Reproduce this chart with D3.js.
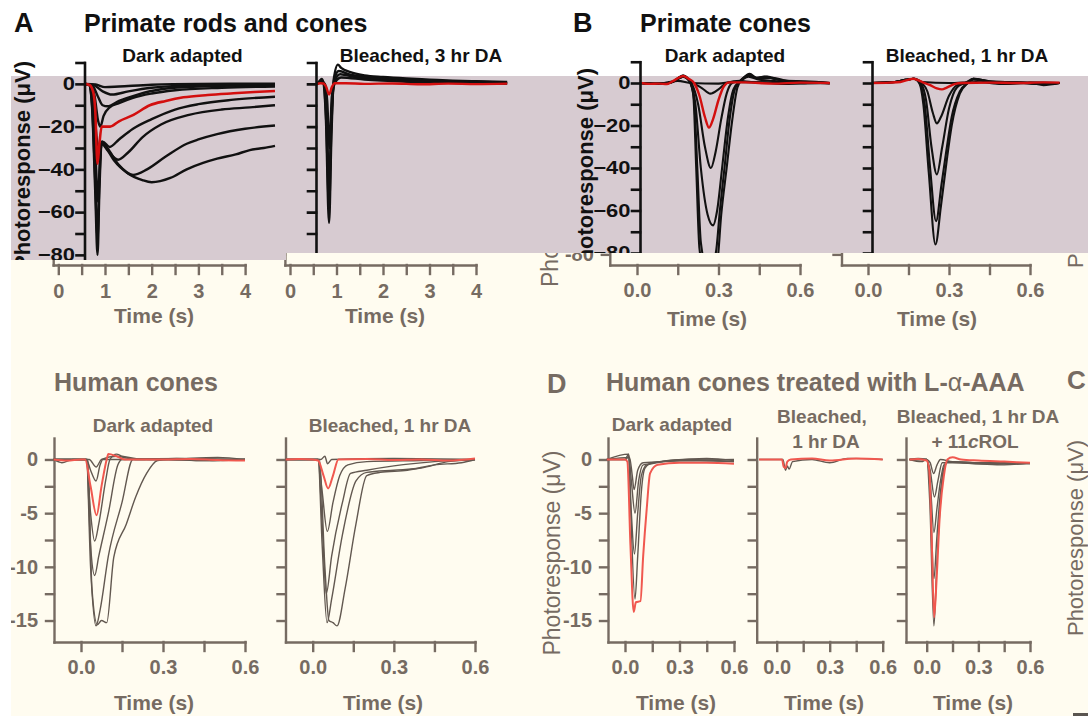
<!DOCTYPE html>
<html lang='en'>
<head>
	<meta charset='UTF-8'/>
	<title>Photoresponses of primate and human cones</title>
	<script src='https://cdnjs.cloudflare.com/ajax/libs/d3/7.8.5/d3.min.js'></script>
	<style>
		body {margin: 0; background: #fff;}
		svg {display: block; font-family: 'Liberation Sans', Arial, sans-serif;}
	</style>
</head>
<body>
	<div class='graph'></div>
	<script>
		// ---- data: [time (s), response (uV)] ----
		const rodTicksX = [0, 1, 2, 3, 4];
		const coneTicksX = [0, 0.3, 0.6];
		const primateTicksY = [-80, -60, -40, -20, 0];
		const humanTicksY = [-15, -10, -5, 0];

		// A - primate rods and cones, dark adapted
		const aDarkRed = [[0.57,0],[0.67,-0.5],[0.75,-4],[0.79,-12],[0.84,-37.4],[0.88,-28],[0.93,-20],[1.11,-20],[1.3,-17.5],[1.61,-14.5],[1.96,-10],[2.3,-8],[2.68,-6.3],[3.2,-5.2],[3.75,-4.4],[4.2,-3.8],[4.64,-3.3]];
		const aDarkBlack = [
			[[0.57,0],[0.66,-0.5],[0.72,-10],[0.79,-50],[0.84,-80],[0.88,-50],[0.93,-27],[1.0,-29],[1.2,-36],[1.5,-42],[1.8,-45],[2.0,-46],[2.4,-44],[2.75,-40],[3.1,-37],[3.4,-35],[3.8,-33],[4.1,-31],[4.4,-30],[4.64,-29]],
			[[0.57,0],[0.66,-0.5],[0.72,-9],[0.79,-45],[0.84,-72],[0.88,-45],[0.93,-27],[1.05,-30],[1.3,-38],[1.6,-42.6],[1.9,-40],[2.3,-34],[2.75,-28],[3.0,-26],[3.4,-23.5],[4.0,-21],[4.64,-19.5]],
			[[0.57,0],[0.66,-0.4],[0.73,-8],[0.8,-35],[0.85,-55],[0.89,-36],[0.93,-28],[1.05,-31],[1.28,-35.5],[1.5,-32],[1.8,-25],[2.2,-19],[2.8,-14.5],[3.5,-12],[4.1,-11],[4.64,-10]],
			[[0.57,0],[0.68,-0.5],[0.75,-6],[0.82,-25],[0.87,-30],[0.95,-27],[1.1,-29.5],[1.3,-26],[1.6,-21],[2.0,-16.5],[2.5,-12],[3.0,-9.5],[3.7,-7.5],[4.64,-6]],
			[[0.57,0],[0.7,-0.5],[0.78,-6],[0.85,-17],[0.9,-20],[0.97,-15],[1.1,-11],[1.3,-9],[1.6,-6.5],[2.0,-4.5],[2.5,-3],[3.5,-1.8],[4.64,-1.2]],
			[[0.57,0],[0.72,-0.5],[0.85,-6],[0.95,-10],[1.05,-10.5],[1.3,-8],[1.7,-5],[2.2,-2.5],[3,-1.2],[4.64,-0.6]],
			[[0.57,0],[0.75,-0.5],[0.95,-3.5],[1.15,-5],[1.5,-3.5],[2,-1.8],[3,-0.6],[4.64,-0.2]],
			[[0.57,0],[0.8,-0.3],[1.0,-1.5],[1.3,-1.2],[2,-0.4],[3,0],[4.64,0.1]]
		];
		// A - bleached, 3 hr DA
		const aBleachRed = [[0.58,0],[0.65,0.3],[0.72,0.2],[0.78,-1.5],[0.84,-5],[0.9,-1.5],[0.96,0.3],[1.2,0.3],[1.6,0],[2.2,0.2],[2.8,-0.2],[3.4,0.1],[4,-0.1],[4.67,0.1]];
		const aBleachBlack = [
			[[0.58,0],[0.63,1],[0.68,2.3],[0.72,0.5],[0.77,-15],[0.84,-65],[0.89,-25],[0.94,2],[1.03,9],[1.1,7.5],[1.3,5.5],[1.6,4],[2,3.2],[2.5,2.5],[3,2],[3.5,1.5],[4,1.2],[4.67,0.9]],
			[[0.58,0],[0.68,1.8],[0.73,0],[0.78,-18],[0.84,-58],[0.89,-20],[0.95,2],[1.05,6],[1.3,4.3],[1.7,3.2],[2.2,2.4],[3,1.5],[4,1],[4.67,0.6]],
			[[0.58,0],[0.68,1.2],[0.73,0],[0.79,-15],[0.84,-48],[0.89,-15],[0.96,1.5],[1.08,4.5],[1.4,3.2],[2,2],[3,1.2],[4,0.6],[4.67,0.3]],
			[[0.58,0],[0.68,0.8],[0.75,0],[0.8,-8],[0.85,-30],[0.9,-6],[0.98,1],[1.1,3],[1.6,2],[2.5,1],[3.5,0.5],[4.67,0.2]]
		];

		// B - primate cones, dark adapted
		const bDarkRed = [[0.01,0],[0.05,-0.4],[0.08,-0.3],[0.11,-0.5],[0.14,1.5],[0.17,3.3],[0.19,2],[0.21,0],[0.23,-6],[0.25,-16],[0.265,-21],[0.28,-17],[0.3,-8],[0.32,-1.5],[0.34,0.3],[0.4,0.3],[0.5,-0.3],[0.6,0.2],[0.71,0]];
		const bDarkBlack = [
			[[0.01,0],[0.06,-0.5],[0.1,0],[0.15,1],[0.2,0],[0.3,-0.3],[0.35,0.5],[0.45,0.3],[0.55,-0.5],[0.65,0.2],[0.71,-0.3]],
			[[0.01,0],[0.08,-0.5],[0.13,0.5],[0.17,3],[0.2,0.5],[0.24,-2.5],[0.27,-5],[0.3,-3],[0.33,0],[0.38,1],[0.42,0.5],[0.5,0.3],[0.6,-0.2],[0.71,0]],
			[[0.01,0],[0.08,-0.5],[0.13,0.5],[0.17,3],[0.2,0],[0.225,-10],[0.25,-30],[0.272,-40],[0.29,-32],[0.31,-17],[0.33,-5],[0.35,0],[0.38,1],[0.41,3],[0.45,1.5],[0.5,1],[0.55,0.3],[0.62,0.5],[0.71,0]],
			[[0.01,0],[0.09,-0.3],[0.13,0.5],[0.17,3.5],[0.195,0.5],[0.215,-10],[0.235,-40],[0.26,-62],[0.28,-67],[0.295,-60],[0.315,-38],[0.335,-16],[0.355,-3],[0.38,1],[0.41,3.5],[0.45,2],[0.5,2.5],[0.55,1],[0.62,0.5],[0.71,0]],
			[[0.01,0],[0.09,-0.3],[0.13,0.5],[0.17,3.5],[0.195,0.5],[0.21,-8],[0.222,-40],[0.235,-75],[0.26,-88],[0.29,-80],[0.305,-60],[0.322,-40],[0.34,-18],[0.36,-3],[0.38,1],[0.41,3.5],[0.44,2.5],[0.48,3],[0.52,1.5],[0.6,0.5],[0.71,0]],
			[[0.01,0],[0.1,-0.3],[0.13,0.5],[0.17,3],[0.195,0.5],[0.207,-5],[0.218,-40],[0.23,-78],[0.26,-95],[0.295,-85],[0.31,-62],[0.33,-40],[0.35,-18],[0.37,-2],[0.39,2],[0.415,4.3],[0.44,2.5],[0.47,3],[0.5,2],[0.55,1],[0.62,0.8],[0.71,0]]
		];
		// B - bleached, 1 hr DA
		const bBleachRed = [[0.015,0],[0.08,0.2],[0.12,0.5],[0.167,2],[0.2,0.5],[0.23,-1],[0.255,-2.5],[0.274,-3],[0.29,-2.3],[0.32,-0.5],[0.35,0],[0.45,0.2],[0.55,0],[0.65,0.3],[0.71,0.2]];
		const bBleachBlack = [
			[[0.015,0],[0.1,0.5],[0.14,1.5],[0.17,2],[0.2,0.5],[0.3,0],[0.4,0.5],[0.5,-0.5],[0.6,0],[0.65,-1],[0.71,0]],
			[[0.015,0],[0.1,0.5],[0.14,1.5],[0.17,2],[0.2,0],[0.22,-4],[0.24,-14],[0.255,-19],[0.27,-16],[0.3,-6],[0.33,-1],[0.36,0],[0.39,1.5],[0.45,0.5],[0.5,-0.5],[0.6,0.3],[0.71,0]],
			[[0.015,0],[0.1,0.5],[0.14,1.5],[0.17,2],[0.195,0],[0.215,-8],[0.235,-30],[0.255,-43],[0.275,-30],[0.3,-12],[0.33,-2],[0.36,0],[0.39,2],[0.45,0.5],[0.55,0.3],[0.65,-0.3],[0.71,0]],
			[[0.015,0],[0.1,0.5],[0.14,1.5],[0.17,2],[0.19,0],[0.21,-10],[0.23,-40],[0.252,-65],[0.272,-48],[0.29,-32],[0.31,-16],[0.34,-4],[0.37,0],[0.39,2],[0.45,0.8],[0.55,0.3],[0.65,-0.5],[0.71,0]],
			[[0.015,0],[0.1,0.5],[0.14,1.5],[0.17,2],[0.19,0],[0.205,-10],[0.225,-42],[0.25,-76],[0.27,-58],[0.29,-38],[0.31,-20],[0.34,-5],[0.37,0],[0.39,2],[0.45,0.8],[0.55,0.3],[0.65,-0.5],[0.71,0]]
		];

		// C - human cones, dark adapted
		const cDarkRed = [[-0.1,0],[-0.05,-0.1],[0,0],[0.015,0],[0.035,-2.5],[0.057,-5.2],[0.075,-2.5],[0.094,0],[0.1,0.5],[0.13,0.3],[0.16,0],[0.3,0],[0.4,0.05],[0.5,-0.05],[0.6,-0.1]];
		const cDarkGray = [
			[[-0.1,0],[-0.07,-0.3],[-0.03,0],[0.03,0],[0.055,-0.7],[0.075,0],[0.13,0.3],[0.2,0],[0.35,0.1],[0.5,-0.1],[0.6,0]],
			[[-0.1,0],[0.02,0],[0.035,-1],[0.055,-2],[0.07,-0.5],[0.08,0],[0.3,0],[0.45,-0.1],[0.6,0]],
			[[-0.1,0],[0.02,0],[0.035,-5],[0.05,-7.6],[0.065,-6],[0.09,-2],[0.106,0],[0.13,0.5],[0.15,0.3],[0.25,0],[0.6,0]],
			[[-0.1,0],[0.02,0],[0.035,-8],[0.05,-10.8],[0.065,-9],[0.1,-5],[0.135,-0.5],[0.15,0],[0.4,0.1],[0.6,0]],
			[[-0.1,0],[0.02,0],[0.035,-10],[0.055,-15.5],[0.07,-14],[0.1,-9],[0.15,-4],[0.19,0],[0.3,0],[0.5,0.2],[0.6,0]],
			[[-0.1,0],[0.025,0],[0.04,-12],[0.06,-15.4],[0.075,-15],[0.094,-15.2],[0.12,-9.1],[0.166,-6],[0.2,-3.5],[0.24,-1.3],[0.28,-0.1],[0.32,0],[0.45,-0.1],[0.6,0]]
		];
		// C - bleached, 1 hr DA
		const cBleachRed = [[-0.1,0],[-0.05,0.05],[0,0],[0.02,-0.1],[0.04,-1.5],[0.057,-2.7],[0.075,-1.5],[0.095,0],[0.2,0.05],[0.3,-0.05],[0.4,0],[0.5,-0.1],[0.6,0.1]];
		const cBleachGray = [
			[[-0.1,0],[0.03,0],[0.045,0.3],[0.055,-0.4],[0.07,0],[0.3,0.1],[0.6,0]],
			[[-0.1,0],[0.02,0],[0.035,-3],[0.054,-6.7],[0.075,-4],[0.1,-1.5],[0.13,-0.5],[0.2,-0.2],[0.4,-0.1],[0.6,0]],
			[[-0.1,0],[0.02,0],[0.035,-6],[0.05,-12.5],[0.07,-9],[0.11,-4],[0.14,-1.3],[0.2,-1],[0.3,-0.6],[0.45,-0.2],[0.6,0]],
			[[-0.1,0],[0.02,0],[0.035,-8],[0.053,-15.2],[0.07,-13],[0.11,-7],[0.16,-2],[0.2,-1.2],[0.3,-1],[0.4,-0.8],[0.5,-0.2],[0.6,0]],
			[[-0.1,0],[0.025,0],[0.045,-10],[0.06,-15],[0.075,-15.2],[0.09,-15.5],[0.12,-12],[0.16,-6],[0.2,-1.5],[0.25,-1.2],[0.35,-1],[0.45,-0.5],[0.55,-0.3],[0.6,0]]
		];

		// D - human cones treated with L-alpha-AAA
		const dDarkRed = [[-0.1,0],[0,0],[0.013,-0.2],[0.03,-8],[0.048,-14.2],[0.06,-13.3],[0.085,-13.2],[0.1,-9],[0.12,-4.5],[0.138,-1.3],[0.18,-0.5],[0.3,-0.3],[0.45,-0.3],[0.6,-0.4]];
		const dDarkGray = [
			[[-0.1,0],[0,0],[0.02,0.5],[0.03,-4],[0.055,-13],[0.07,-9],[0.09,-3],[0.11,-0.8],[0.15,-0.3],[0.35,0],[0.6,-0.2]],
			[[-0.1,0],[0.005,0],[0.02,0.3],[0.035,-5],[0.052,-8.8],[0.07,-5],[0.09,-1.5],[0.12,-0.5],[0.3,-0.1],[0.6,-0.2]],
			[[-0.1,0],[0.02,0.5],[0.035,-2],[0.055,-5],[0.075,-2],[0.1,-0.5],[0.45,0.1],[0.6,-0.1]],
			[[-0.1,0],[0.025,0.2],[0.04,-1.5],[0.05,-2.8],[0.07,-1],[0.1,-0.3],[0.6,0]]
		];
		const dBleachRed = [[-0.1,0],[0.03,0],[0.04,-0.7],[0.05,-0.8],[0.06,-0.2],[0.08,0],[0.2,0.1],[0.3,-0.1],[0.45,0.1],[0.6,0]];
		const dBleachGray = [
			[[-0.1,0],[0.035,0],[0.05,-1],[0.06,-0.6],[0.07,-0.9],[0.09,-0.2],[0.2,0],[0.3,-0.3],[0.4,0.1],[0.6,0]]
		];
		const dRolRed = [[-0.1,0],[-0.05,0.05],[0,-0.1],[0.015,-1],[0.03,-8],[0.043,-14.7],[0.058,-11],[0.075,-5.5],[0.1,-1.5],[0.12,0],[0.15,0.2],[0.2,0],[0.3,-0.1],[0.45,-0.2],[0.6,-0.3]];
		const dRolGray = [
			[[-0.1,0],[-0.05,0.1],[0,0],[0.02,-0.3],[0.04,-1.3],[0.06,-0.5],[0.08,0],[0.15,-0.2],[0.3,-0.3],[0.45,-0.4],[0.6,-0.3]],
			[[-0.1,0],[0,0],[0.02,-1],[0.045,-3.5],[0.065,-2],[0.09,-0.3],[0.15,-0.3],[0.3,-0.4],[0.45,-0.5],[0.6,-0.3]],
			[[-0.1,0],[0,0],[0.02,-2],[0.042,-6.8],[0.06,-4.5],[0.08,-2],[0.1,-0.5],[0.13,-0.2],[0.3,-0.3],[0.6,-0.3]],
			[[-0.1,0],[0,0],[0.02,-3],[0.042,-11.1],[0.058,-7.5],[0.08,-3],[0.1,-0.8],[0.125,-0.2],[0.3,-0.4],[0.6,-0.4]],
			[[-0.1,0],[-0.03,-0.2],[0,0],[0.018,-4],[0.042,-15.5],[0.058,-10],[0.08,-4],[0.1,-1],[0.125,-0.2],[0.3,-0.3],[0.6,-0.3]]
		];

		// ---- drawing ----
		const W = 1088, H = 716;
		const CREAM = '#fffcf0', MAUVE = '#d7cbd1', INK = '#111', BROWN = '#766b62';
		const TRACE = '#625850', RED_TOP = '#d30f0f', RED_LOW = '#f0584f';

		const svg = d3.select('.graph').append('svg').attr('width', W).attr('height', H);
		const defs = svg.append('defs');
		defs.append('clipPath').attr('id', 'creamClip').append('path').attr('d', 'M11,253H1088V716H11Z');
		defs.append('clipPath').attr('id', 'topClip').append('path').attr('d', 'M0,0H1088V253H286V260H0Z');

		svg.append('rect').attr('width', W).attr('height', H).attr('fill', '#fff');
		svg.append('rect').attr('x', 11).attr('y', 253).attr('width', W - 11).attr('height', H - 253).attr('fill', CREAM);

		const line = (x, y) => d3.line().x(d => x(d[0])).y(d => y(d[1])).curve(d3.curveMonotoneX);

		// x scale whose axis starts at the y axis; t=0 sits at x0, tEnd at xEnd
		function timeScale(axisX, x0, xEnd, tEnd) {
			const s = d3.scaleLinear().domain([0, tEnd]).range([x0, xEnd]);
			return d3.scaleLinear().domain([s.invert(axisX), tEnd]).range([axisX, xEnd]);
		}

		function paint(a, color, w, fs, weight) {
			a.attr('font-size', null).attr('font-family', null);
			a.selectAll('path, line').attr('stroke', color).attr('stroke-width', w).attr('stroke-linecap', 'square');
			a.selectAll('text').attr('fill', color).style('font-size', fs + 'px').style('font-weight', weight);
		}

		function creamX(g, x, y0, ticks, labels, fmt, pad) {
			const a = g.append('g').attr('transform', 'translate(0,' + y0 + ')')
				.call(d3.axisBottom(x).tickValues(ticks).tickSizeInner(9).tickSizeOuter(0).tickPadding(pad)
					.tickFormat(d => labels.includes(d) ? fmt(d) : ''));
			paint(a, BROWN, 2.4, 20, 'bold');
		}

		function creamY(g, y, x0, ticks, labels) {
			const a = g.append('g').attr('transform', 'translate(' + x0 + ',0)')
				.call(d3.axisLeft(y).tickValues(ticks).tickSizeInner(8).tickSizeOuter(0).tickPadding(8)
					.tickFormat(d => labels.includes(d) ? String(d) : ''));
			paint(a, BROWN, 2.4, 20, 'bold');
		}

		function inkY(g, y, x0, labels) {
			const a = g.append('g').attr('transform', 'translate(' + x0 + ',0)')
				.call(d3.axisLeft(y).tickValues(d3.range(-80, 11, 10)).tickSizeInner(8).tickSizeOuter(0).tickPadding(3)
					.tickFormat(d => labels.includes(d) ? d3.format('d')(d) : ''));
			paint(a, INK, 2.6, 18, 'bold');
			a.selectAll('text').attr('x', -9.5 / 1.22).attr('transform', 'scale(1.22,1)');
		}

		function traces(g, list, x, y, color, w) {
			g.append('g').selectAll(null).data(list).join('path')
				.attr('d', line(x, y))
				.attr('fill', 'none')
				.attr('stroke', color)
				.attr('stroke-width', w)
				.attr('stroke-linejoin', 'round');
		}

		function text(g, x, y, str, size, color, opts) {
			opts = opts || {};
			return g.append('text')
				.attr('x', x).attr('y', y)
				.attr('text-anchor', opts.anchor || 'start')
				.attr('fill', color)
				.style('font-size', size + 'px')
				.style('font-weight', opts.weight || 'bold')
				.text(str);
		}

		function vlabel(g, x, y, anchor, size, color, weight, str) {
			return g.append('text')
				.attr('transform', 'translate(' + x + ',' + y + ') rotate(-90)')
				.attr('text-anchor', anchor)
				.attr('fill', color)
				.style('font-size', size + 'px')
				.style('font-weight', weight)
				.text(str || 'Photoresponse (\u03bcV)');
		}

		// time scales shared by the top (mauve) traces and the cream axes below them
		const xA1 = timeScale(53.2, 58.3, 245.1, 4);
		const xA2 = timeScale(284.9, 290, 476, 4);
		const xB1 = timeScale(609.8, 637, 800, 0.6);
		const xB2 = timeScale(841.5, 868, 1030, 0.6);
		const coneTicks = [0, 0.15, 0.3, 0.45, 0.6];
		const rodTicks = d3.range(0, 4.01, 0.5);
		const fmt1 = d3.format('.1f');

		// ---------- cream layer ----------
		const cream = svg.append('g').attr('clip-path', 'url(#creamClip)');

		const ycA = d3.scaleLinear().domain([10, -85]).range([265 - 95 * 2.1375, 265]);
		const ycB = d3.scaleLinear().domain([10, -85]).range([265 - 95 * 2.125, 265]);
		const topTicks = d3.range(-80, 11, 10);
		creamY(cream, ycA, 53.2, topTicks, []);
		creamY(cream, ycA, 284.9, topTicks, []);
		creamY(cream, ycB, 609.8, topTicks, primateTicksY);
		creamY(cream, ycB, 841.5, topTicks, []);
		creamX(cream, xA1, 265, rodTicks, rodTicksX, d3.format('d'), 10);
		creamX(cream, xA2, 265, rodTicks, rodTicksX, d3.format('d'), 10);
		creamX(cream, xB1, 265, coneTicks, coneTicksX, fmt1, 9);
		creamX(cream, xB2, 265, coneTicks, coneTicksX, fmt1, 9);
		[[154, 323], [385, 323], [707, 326], [937, 326]].forEach(p =>
			text(cream, p[0], p[1], 'Time (s)', 21, BROWN, {anchor: 'middle'}));
		vlabel(cream, 558, 287, 'start', 23, BROWN, 'normal');
		vlabel(svg, 1083, 268, 'start', 22, BROWN, 'normal', 'Ph');

		// C and D panels
		const yH = d3.scaleLinear().domain([2, -17]).range([438, 642]);
		const humanTicks = d3.range(-15, 0.1, 2.5);
		const lower = [
			{ax: 54,    x0: 81,    x1: 245,   red: cDarkRed,   gray: cDarkGray,   labels: humanTicksY},
			{ax: 285.5, x0: 312.7, x1: 475,   red: cBleachRed, gray: cBleachGray, labels: []},
			{ax: 608,   x0: 625,   x1: 734,   red: dDarkRed,   gray: dDarkGray,   labels: humanTicksY},
			{ax: 756.7, x0: 776.7, x1: 882.7, red: dBleachRed, gray: dBleachGray, labels: []},
			{ax: 906,   x0: 926.7, x1: 1030,  red: dRolRed,    gray: dRolGray,    labels: []}
		];
		lower.forEach(p => {
			const x = timeScale(p.ax, p.x0, p.x1, 0.6);
			creamY(cream, yH, p.ax, humanTicks, p.labels);
			creamX(cream, x, 642, coneTicks, coneTicksX, fmt1, 9);
			traces(cream, p.gray, x, yH, TRACE, 1.4);
			traces(cream, [p.red], x, yH, RED_LOW, 2);
		});
		[154, 383, 676, 824, 973].forEach(cx => text(cream, cx, 710, 'Time (s)', 21, BROWN, {anchor: 'middle'}));

		text(cream, 54, 391, 'Human cones', 25, BROWN);
		text(cream, 153, 432, 'Dark adapted', 19, BROWN, {anchor: 'middle'});
		text(cream, 390, 432, 'Bleached, 1 hr DA', 19, BROWN, {anchor: 'middle'});
		text(cream, 547, 393, 'D', 27, BROWN);
		const dTitle = text(cream, 606, 391, 'Human cones treated with L-', 25, BROWN);
		dTitle.append('tspan').style('font-weight', 'normal').text('\u03b1');
		dTitle.append('tspan').text('-AAA');
		text(cream, 1067, 389, 'C', 26, BROWN);
		text(cream, 672, 431, 'Dark adapted', 19, BROWN, {anchor: 'middle'});
		text(cream, 822, 423, 'Bleached,', 19, BROWN, {anchor: 'middle'});
		text(cream, 826, 448, '1 hr DA', 19, BROWN, {anchor: 'middle'});
		text(cream, 978, 423, 'Bleached, 1 hr DA', 19, BROWN, {anchor: 'middle'});
		const rol = text(cream, 975, 448, '+ 11', 19, BROWN, {anchor: 'middle'});
		rol.append('tspan').style('font-style', 'italic').text('c');
		rol.append('tspan').text('ROL');
		vlabel(cream, 560, 553, 'middle', 23, BROWN, 'normal');
		vlabel(cream, 1083, 538, 'middle', 22, BROWN, 'normal');
		cream.append('rect').attr('x', 1073).attr('y', 713).attr('width', 15).attr('height', 3).attr('fill', '#5a5550');

		// ---------- top (mauve) layer ----------
		svg.append('path').attr('d', 'M11,76H1088V253H286V260H11Z').attr('fill', MAUVE);
		const upper = svg.append('g').attr('clip-path', 'url(#topClip)');

		const yA = d3.scaleLinear().domain([10, -85]).range([62.5, 62.5 + 95 * 2.1375]);
		const yB = d3.scaleLinear().domain([10, -85]).range([61.75, 61.75 + 95 * 2.125]);

		traces(upper, aDarkBlack, xA1, yA, INK, 2.4);
		traces(upper, [aDarkRed], xA1, yA, RED_TOP, 2.6);
		traces(upper, aBleachBlack, xA2, yA, INK, 2.4);
		traces(upper, [aBleachRed], xA2, yA, RED_TOP, 2.4);
		traces(upper, bDarkBlack, xB1, yB, INK, 2.1);
		traces(upper, [bDarkRed], xB1, yB, RED_TOP, 2.4);
		traces(upper, bBleachBlack, xB2, yB, INK, 2.1);
		traces(upper, [bBleachRed], xB2, yB, RED_TOP, 2.4);

		inkY(upper, yA, 84.5, primateTicksY);
		inkY(upper, yA, 316, []);
		inkY(upper, yB, 640, primateTicksY);
		inkY(upper, yB, 872, []);

		vlabel(upper, 30, 61, 'end', 22, INK, 'bold');
		vlabel(upper, 593, 68, 'end', 22, INK, 'bold');

		text(upper, 14, 32, 'A', 27, INK);
		text(upper, 84, 32, 'Primate rods and cones', 25, INK);
		text(upper, 182.5, 62, 'Dark adapted', 19, INK, {anchor: 'middle'});
		text(upper, 421, 62, 'Bleached, 3 hr DA', 19, INK, {anchor: 'middle'});
		text(upper, 573, 32, 'B', 27, INK);
		text(upper, 640, 32, 'Primate cones', 25, INK);
		text(upper, 725, 62, 'Dark adapted', 19, INK, {anchor: 'middle'});
		text(upper, 967, 62, 'Bleached, 1 hr DA', 19, INK, {anchor: 'middle'});
	</script>
</body>
</html>
